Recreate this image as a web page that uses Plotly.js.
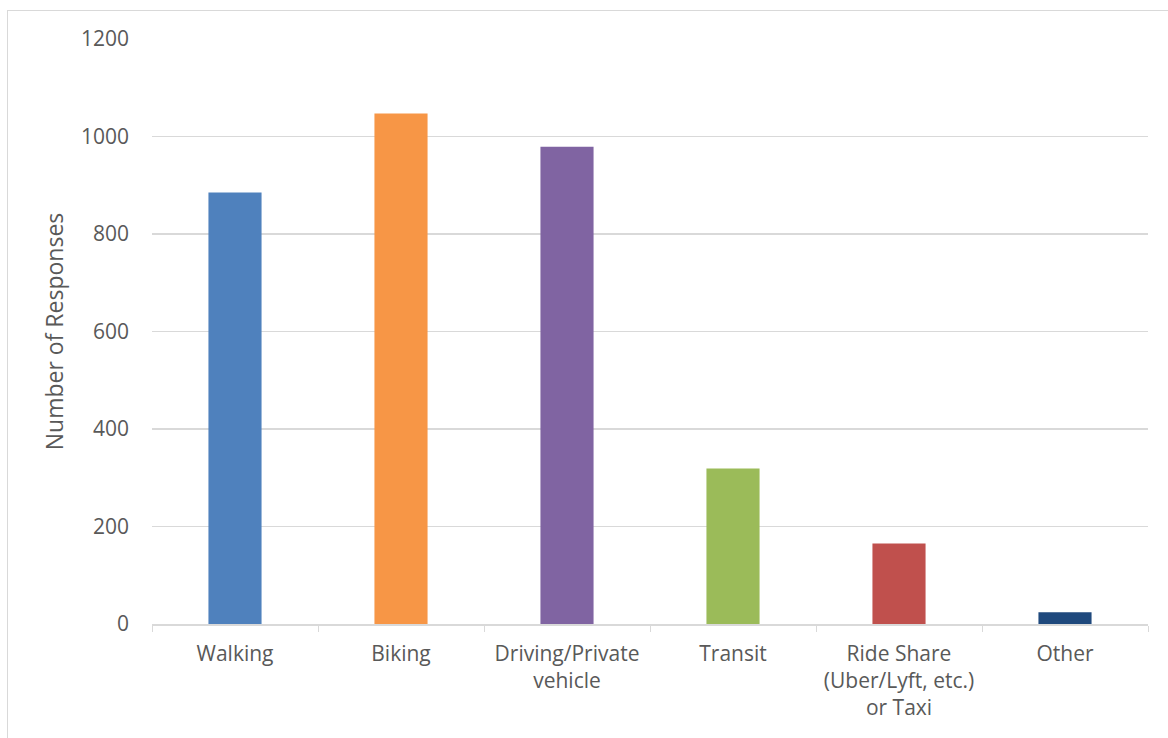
<!DOCTYPE html>
<html><head><meta charset="utf-8">
<script src="https://cdn.plot.ly/plotly-3.0.1.min.js"></script>
<style>html,body{margin:0;padding:0;background:#fff;}
#wrap{position:relative;width:1168px;height:738px;}
#frame{position:absolute;left:7px;top:10px;width:1170px;height:740px;border:1px solid #d9d9d9;box-sizing:border-box;pointer-events:none;}
#chart{position:absolute;left:0;top:0;width:1168px;height:738px;}
</style></head>
<body><div id="wrap"><div id="chart"></div><div id="frame"></div></div>
<script>
const categories = ["Walking", "Biking", "Driving/Private<br>vehicle", "Transit", "Ride Share<br>(Uber/Lyft, etc.)<br>or Taxi", "Other"];
const responses = [885, 1047, 979, 319, 165, 24];
const barColors = ["#4F81BD", "#F79646", "#8064A2", "#9BBB59", "#C0504D", "#1F497D"];
const yTicks = [0, 200, 400, 600, 800, 1000, 1200];

const font = {family: "Open Sans, sans-serif", size: 21, color: "#595959"};
const titleFont = {family: "Open Sans, sans-serif", size: 23, color: "#595959"};
Plotly.newPlot("chart", [{
  type: "bar", x: categories, y: responses,
  marker: {color: barColors}, hoverinfo: "x+y"
}], {
  width: 1168, height: 738,
  margin: {l: 152, r: 20, t: 39, b: 113.5},
  paper_bgcolor: "rgba(0,0,0,0)", plot_bgcolor: "rgba(0,0,0,0)",
  font: font,
  bargap: 0.68,
  showlegend: false,
  xaxis: {
    type: "category", tickson: "boundaries", ticks: "outside", ticklen: 6,
    tickcolor: "#d9d9d9", showline: true, linecolor: "#d9d9d9", linewidth: 1.5,
    showgrid: false, tickfont: font, ticklabelstandoff: 10, automargin: false
  },
  yaxis: {
    range: [0, 1200], tickvals: yTicks, ticktext: yTicks.map(String),
    showgrid: true, gridcolor: "#d9d9d9", gridwidth: 1.5, zeroline: false,
    ticks: "", ticklabelstandoff: 22, tickfont: font, automargin: false,
    title: {text: "Number of Responses", font: titleFont, standoff: 10}
  }
}, {displayModeBar: false, staticPlot: true});
</script></body></html>
